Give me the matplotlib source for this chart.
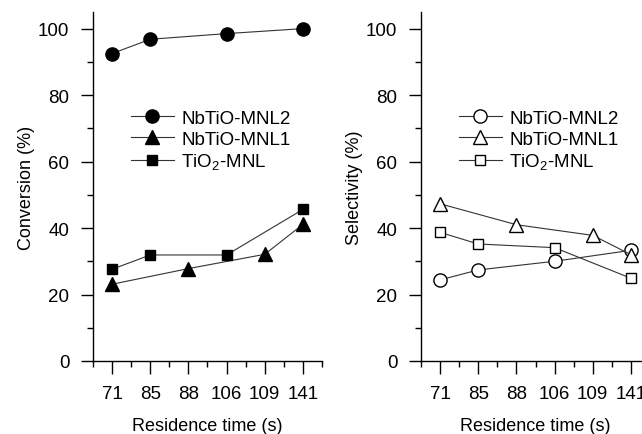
import matplotlib
matplotlib.use("Agg")
import matplotlib.pyplot as plt
from matplotlib.ticker import MultipleLocator

plt.rcParams['font.family'] = ['Liberation Sans', 'DejaVu Sans']
plt.rcParams['mathtext.fontset'] = 'custom'
plt.rcParams['mathtext.rm'] = 'Liberation Sans'
plt.rcParams['mathtext.default'] = 'regular'

# residence times, shown as evenly spaced categories
times = ['71', '85', '88', '106', '109', '141']
idx_a = [0, 1, 3, 5]   # 71, 85, 106, 141
idx_b = [0, 2, 4, 5]   # 71, 88, 109, 141

labels = ['NbTiO-MNL2', 'NbTiO-MNL1', 'TiO$_2$-MNL']

conv_mnl2 = [92.5, 96.8, 98.5, 100.0]
conv_mnl1 = [23.1, 27.8, 32.1, 41.1]
conv_tio2 = [27.6, 31.9, 31.9, 45.6]

sel_mnl2 = [24.4, 27.4, 30.0, 33.3]
sel_mnl1 = [47.3, 41.0, 37.8, 32.0]
sel_tio2 = [38.7, 35.2, 34.1, 24.9]

fig = plt.figure(figsize=(6.42, 4.35), dpi=100)
ax1 = fig.add_axes([93/642, 73/435, 229/642, 349/435])
ax2 = fig.add_axes([421/642, 73/435, 229/642, 349/435])

line_kw = dict(color='#333333', lw=0.8, markeredgecolor='black', markeredgewidth=1.0)


def draw(ax, series, filled, ylabel):
    face = 'black' if filled else 'white'
    (s1, x1), (s2, x2), (s3, x3) = series
    ax.plot(x1, s1, marker='o', ms=9.5, markerfacecolor=face, label=labels[0], **line_kw)
    ax.plot(x2, s2, marker='^', ms=9.5, markerfacecolor=face, label=labels[1], **line_kw)
    ax.plot(x3, s3, marker='s', ms=7.5, markerfacecolor=face, label=labels[2], **line_kw)

    ax.set_xlim(-0.5, 5.5)
    ax.set_ylim(0, 105)
    ax.set_xticks(range(len(times)))
    ax.set_xticklabels(times)
    ax.xaxis.set_minor_locator(MultipleLocator(0.5))
    ax.yaxis.set_major_locator(MultipleLocator(20))
    ax.yaxis.set_minor_locator(MultipleLocator(10))
    ax.tick_params(which='major', direction='out', length=9, width=1, labelsize=13.5, pad=8)
    ax.tick_params(which='minor', direction='out', length=4.5, width=1)
    for side in ['top', 'right']:
        ax.spines[side].set_visible(False)
    for side in ['left', 'bottom']:
        ax.spines[side].set_linewidth(1)
    ax.set_xlabel('Residence time (s)', fontsize=13, labelpad=11)
    ax.set_ylabel(ylabel, fontsize=13, labelpad=2)
    ax.legend(loc='upper left', bbox_to_anchor=(0.165, 0.72), frameon=False,
              fontsize=13.5, handlelength=2.3, handletextpad=0.4,
              labelspacing=0.2, borderpad=0, borderaxespad=0)


draw(ax1, [(conv_mnl2, idx_a), (conv_mnl1, idx_b), (conv_tio2, idx_a)], True, 'Conversion (%)')
draw(ax2, [(sel_mnl2, idx_a), (sel_mnl1, idx_b), (sel_tio2, idx_a)], False, 'Selectivity (%)')

for ax in (ax1, ax2):
    for line in ax.lines:
        line.set_clip_on(False)

fig.savefig('out.png', dpi=100)
